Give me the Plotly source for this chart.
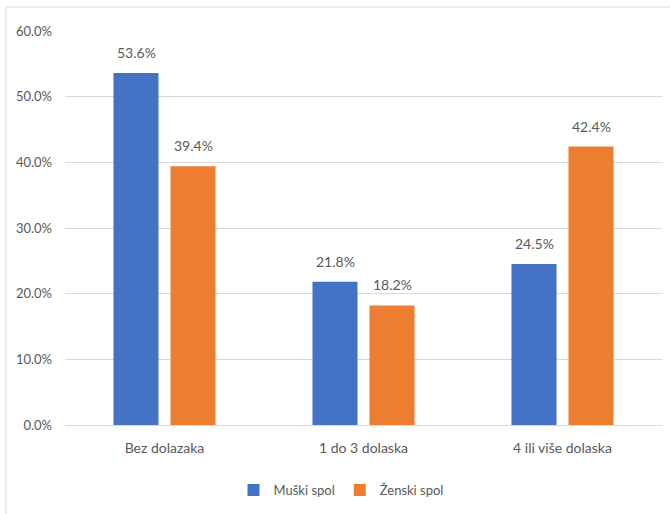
import plotly.graph_objects as go

categories = ["Bez dolazaka", "1 do 3 dolaska", "4 ili više dolaska"]
muski = [53.6, 21.8, 24.5]
zenski = [39.4, 18.2, 42.4]
series_names = ["Muški spol", "Ženski spol"]
colors = ["#4472C4", "#ED7D31"]
y_ticks = [0, 10, 20, 30, 40, 50, 60]

FONT = "Lato, sans-serif"
GRAY = "#595959"

fig = go.Figure()
for name, vals, col in zip(series_names, [muski, zenski], colors):
    fig.add_trace(go.Bar(name=name, x=categories, y=vals, marker_color=col,
                         marker_line_width=0))

annotations = []
for i, vals in enumerate([muski, zenski]):
    for cat, v in zip(categories, vals):
        annotations.append(dict(
            x=cat, y=v, xref="x", yref="y", text=f"{v:.1f}%", showarrow=False,
            xanchor="center", yanchor="bottom", xshift=(-28.5 if i == 0 else 28.5),
            yshift=10, font=dict(family=FONT, size=14, color=GRAY)))

L, R, T, B = 65, 8, 31, 89
W, H = 670, 514
pw, ph = W - L - R, H - T - B
x0 = (6 - L) / pw
x1 = (W - L) / pw
y_top = 1 + (T - 7) / ph
y_bot = -(H - (H - B)) / ph

fig.update_layout(
    width=W, height=H,
    margin=dict(l=L, r=R, t=T, b=B),
    paper_bgcolor="white", plot_bgcolor="white",
    barmode="group", bargap=0.427, bargroupgap=0.21,
    font=dict(family=FONT, size=13, color=GRAY),
    showlegend=True,
    legend=dict(orientation="h", x=(341 - L) / pw, xanchor="center",
                y=-(490 - (H - B)) / ph, yanchor="middle",
                font=dict(family=FONT, size=13, color=GRAY),
                itemwidth=30, traceorder="normal"),
    xaxis=dict(showgrid=False, showline=True, linecolor="#d9d9d9", linewidth=1,
               ticks="", tickfont=dict(family=FONT, size=14, color=GRAY),
               ticklabelstandoff=10),
    yaxis=dict(range=[0, 60], tickvals=y_ticks, ticktext=[f"{t:.1f}%" for t in y_ticks],
               showgrid=True, gridcolor="#d9d9d9", gridwidth=1, zeroline=False,
               showline=False, ticks="", ticklabelstandoff=12,
               tickfont=dict(family=FONT, size=13, color=GRAY)),
    annotations=annotations,
    shapes=[
        dict(type="line", xref="paper", yref="paper", x0=x0, x1=x1, y0=y_top, y1=y_top,
             line=dict(color="#d9d9d9", width=1)),
        dict(type="line", xref="paper", yref="paper", x0=x0, x1=x0, y0=y_top, y1=y_bot,
             line=dict(color="#d9d9d9", width=1)),
    ],
)

fig.write_html("out.html")
